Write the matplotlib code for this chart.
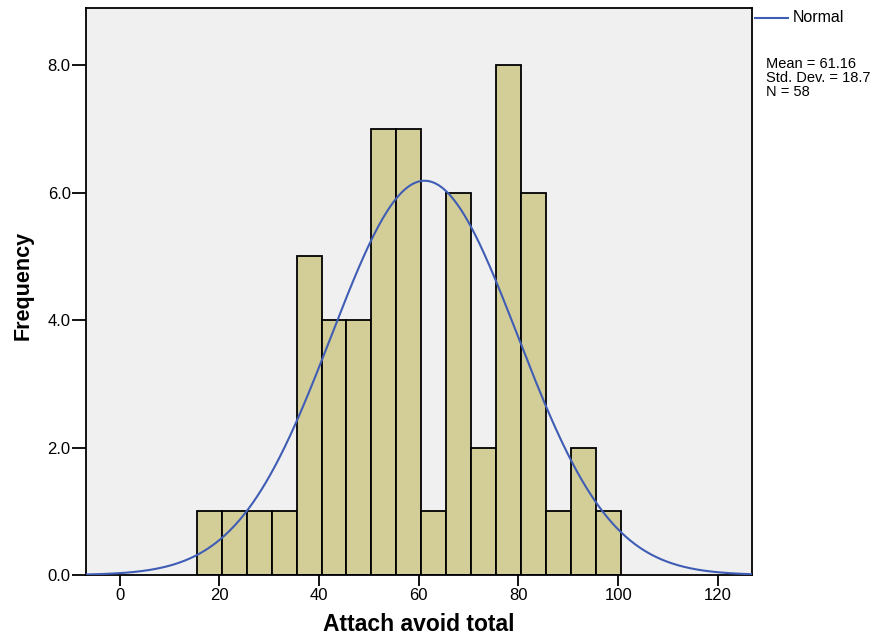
import numpy as np
import matplotlib
matplotlib.use("Agg")
import matplotlib.pyplot as plt

# Data
bin_edges = [15.5, 20.5, 25.5, 30.5, 35.5, 40.5, 45.5, 50.5, 55.5, 60.5,
             65.5, 70.5, 75.5, 80.5, 85.5, 90.5, 95.5, 100.5]
counts = [1, 1, 1, 1, 5, 4, 4, 7, 7, 1, 6, 2, 8, 6, 1, 2, 1]
mean_val = 61.16
sd_val = 18.7
n_val = 58
x_ticks = [0, 20, 40, 60, 80, 100, 120]
y_ticks = [0.0, 2.0, 4.0, 6.0, 8.0]

plt.rcParams['font.family'] = ['Liberation Sans', 'DejaVu Sans']

fig = plt.figure(figsize=(8.96, 6.37), dpi=100)
ax = fig.add_axes([0.0960, 0.0973, 0.839 - 0.0960, 0.9867 - 0.0973])
ax.set_facecolor('#F0F0F0')

edges = np.array(bin_edges)
widths = np.diff(edges)
ax.bar(edges[:-1], counts, width=widths, align='edge', color='#D3CE98',
       edgecolor='black', linewidth=1.3, zorder=2)

# Normal curve scaled to histogram
xs = np.linspace(-6.8, 126.8, 600)
bw = widths[0]
ys = n_val * bw / (sd_val * np.sqrt(2 * np.pi)) * np.exp(-0.5 * ((xs - mean_val) / sd_val) ** 2)
ax.plot(xs, ys, color='#3F5DB5', linewidth=1.5, zorder=3)

ax.set_xlim(-6.75, 126.8)
ax.set_ylim(0, 8.89)
ax.set_xticks(x_ticks)
ax.set_xticklabels([str(t) for t in x_ticks])
ax.set_yticks(y_ticks)
ax.set_yticklabels([f"{t:.1f}" for t in y_ticks])
ax.tick_params(axis='x', direction='out', length=8, width=1.3, labelsize=12, pad=1.5)
ax.tick_params(axis='y', direction='out', length=10, width=1.3, labelsize=12, pad=1)
for s in ax.spines.values():
    s.set_linewidth(1.3)

ax.set_xlabel('Attach avoid total', fontsize=16.5, fontweight='bold', labelpad=7)
ax.set_ylabel('Frequency', fontsize=15.5, fontweight='bold')
ax.yaxis.set_label_coords(-0.079, 0.512)

# Legend-like annotation on the right
fig.lines.append(plt.Line2D([755/896, 788/896], [1 - 18/637, 1 - 18/637],
                            color='#3F5DB5', linewidth=1.5, transform=fig.transFigure))
fig.text(793/896, 1 - 18/637, 'Normal', fontsize=11.5, va='center', ha='left')
fig.text(766/896, 1 - 57/637,
         f"Mean = {mean_val:.2f}\nStd. Dev. = {sd_val}\nN = {n_val}",
         fontsize=10.5, va='top', ha='left', linespacing=0.98)

fig.savefig('out.png', dpi=100)
